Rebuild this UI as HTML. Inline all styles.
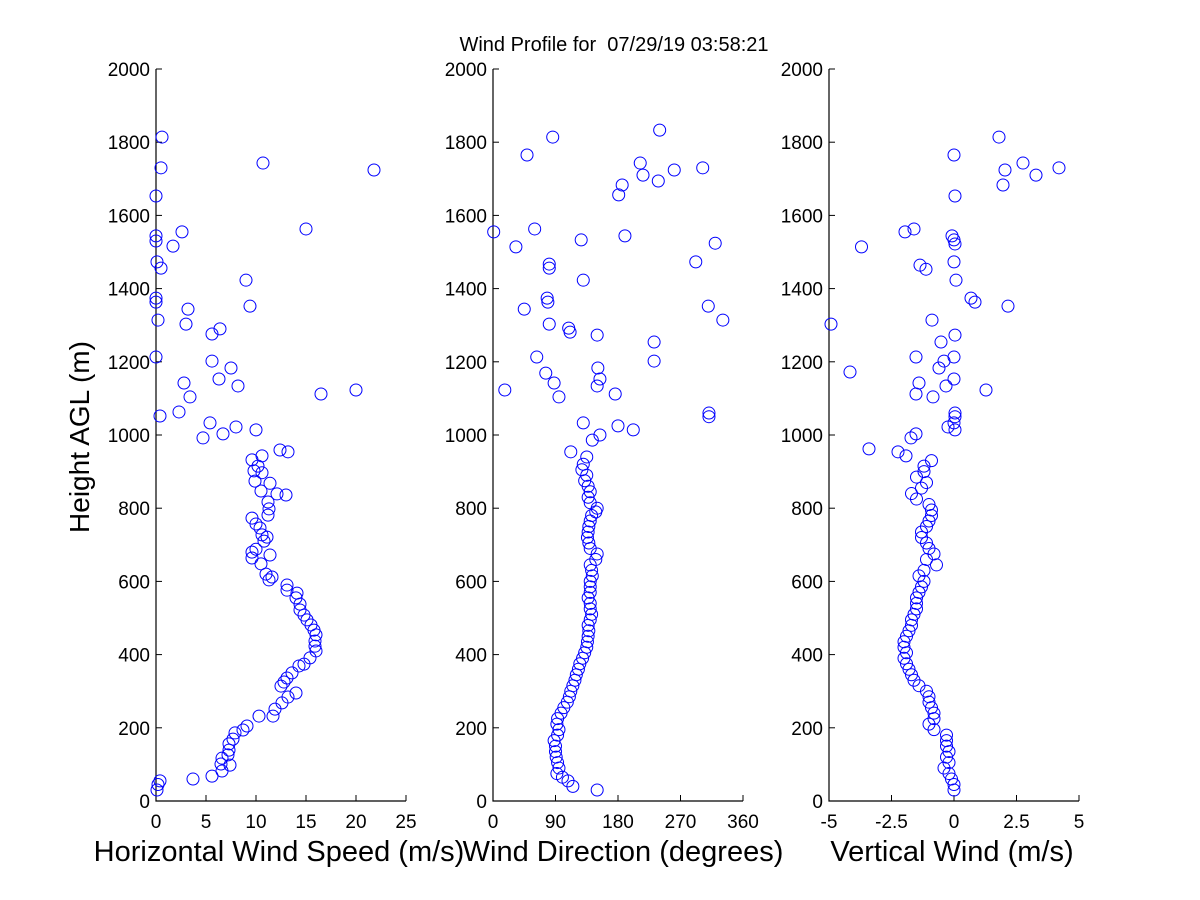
<!DOCTYPE html>
<html><head><meta charset="utf-8"><style>
body{margin:0;background:#fff;}
svg{display:block;font-family:"Liberation Sans",Arial,sans-serif;}
text{white-space:pre;}
</style></head><body>
<svg id="chart" width="1200" height="900" viewBox="0 0 1200 900">
<rect width="1200" height="900" fill="#fff"/>
<text x="614" y="51" font-size="20" text-anchor="middle" xml:space="preserve">Wind Profile for  07/29/19 03:58:21</text>
<text transform="translate(89,437) rotate(-90)" font-size="28" text-anchor="middle">Height AGL (m)</text>
</svg>
<script>
const heightTicks=[0,200,400,600,800,1000,1200,1400,1600,1800,2000];
const speedTicks=[0,5,10,15,20,25];
const dirTicks=[0,90,180,270,360];
const vertTicks=[-5,-2.5,0,2.5,5];
const vertTickLabels=["-5","-2.5","0","2.5","5"];
const speedH=[1814,1724,1743,1730,1653,1563,1555,1516,1544,1530,1473,1456,1423,1352,1344,1374,1363,1303,1314,1276,1290,1213,1202,1183,1153,1134,1142,1104,1123,1112,1052,1063,1033,1003,992,1022,1014,959,954,932,943,915,902,897,874,868,847,839,836,817,798,781,773,757,746,727,721,710,688,680,664,672,648,620,604,612,590,576,568,555,538,522,508,495,481,467,454,437,423,410,391,374,369,350,336,325,314,295,284,268,251,232,232,205,194,186,169,156,139,126,117,101,98,82,68,60,55,30,45];
const speedV=[0.6,21.8,10.7,0.5,0,15,2.6,1.7,0,0,0.1,0.5,9,9.4,3.2,0,0,3,0.2,5.6,6.4,0,5.6,7.5,6.3,8.2,2.8,3.4,20,16.5,0.4,2.3,5.4,6.7,4.7,8,10,12.4,13.2,9.6,10.6,10.2,9.8,10.6,9.9,11.4,10.5,12.1,13,11.2,11.3,11.2,9.6,10,10.4,10.6,11.1,10.8,10,9.6,9.6,11.4,10.5,11,11.3,11.6,13.1,13.1,14.1,14,14.4,14.4,14.8,15.1,15.5,15.8,16,15.9,15.9,16,15.4,14.8,14.3,13.6,13.1,12.8,12.5,14,13.2,12.6,11.9,11.7,10.3,9.1,8.7,7.9,7.7,7.3,7.3,7.2,6.6,6.5,7.4,6.6,5.6,3.7,0.4,0.1,0.2];
const dirH=[1814,1833,1765,1743,1730,1710,1724,1694,1683,1656,1563,1555,1514,1533,1544,1524,1467,1456,1473,1423,1374,1363,1344,1352,1314,1303,1292,1281,1273,1254,1213,1202,1183,1169,1153,1142,1134,1112,1123,1104,1060,1050,1033,1025,1014,1000,986,954,940,920,905,890,875,860,845,830,815,800,790,780,765,750,735,720,705,690,675,660,645,630,615,600,585,570,555,540,525,510,495,480,465,450,435,420,405,390,375,360,345,330,315,300,285,270,255,240,225,210,195,180,165,150,135,120,105,90,75,65,55,40,30];
const dirV=[86,240,49,212,302,216,261,238,186,181,60,1,33,127,190,320,81,81,292,130,78,79,45,310,331,81,109,111,150,232,63,232,151,76,154,88,150,176,17,95,311,311,130,180,202,154,143,112,135,130,128,135,132,137,140,137,140,150,148,142,140,138,137,136,138,140,150,148,140,142,143,140,140,140,137,140,140,142,140,137,138,137,136,135,132,129,125,123,120,118,115,112,110,107,102,98,93,92,95,93,88,90,90,91,93,95,92,100,108,115,150];
const vertH=[1814,1765,1743,1730,1724,1710,1683,1653,1563,1555,1514,1544,1533,1522,1473,1464,1453,1423,1374,1363,1352,1303,1314,1273,1254,1213,1213,1202,1183,1172,1153,1142,1134,1123,1112,1104,1060,1050,1033,1022,1014,1003,992,962,954,943,930,915,900,885,870,855,840,825,810,795,780,765,750,735,720,705,690,675,660,645,630,615,600,585,570,555,540,525,510,495,480,465,450,435,420,405,390,375,360,345,330,315,300,285,270,255,240,225,210,195,180,165,150,135,120,105,90,75,60,45,30];
const vertV=[1.8,0,2.76,4.2,2.04,3.28,1.96,0.04,-1.6,-1.96,-3.7,-0.08,0,0.04,0,-1.36,-1.12,0.08,0.68,0.84,2.16,-4.92,-0.88,0.04,-0.52,-1.52,0,-0.4,-0.6,-4.16,0,-1.4,-0.32,1.28,-1.52,-0.84,0.04,0.04,0,-0.24,0.04,-1.52,-1.72,-3.4,-2.24,-1.92,-0.9,-1.2,-1.2,-1.5,-1.1,-1.3,-1.7,-1.5,-1.0,-0.9,-0.9,-1.0,-1.1,-1.3,-1.3,-1.1,-1.0,-0.8,-1.1,-0.7,-1.2,-1.4,-1.2,-1.3,-1.4,-1.5,-1.5,-1.5,-1.6,-1.7,-1.7,-1.8,-1.9,-2.0,-2.0,-1.9,-2.0,-1.9,-1.8,-1.7,-1.6,-1.4,-1.1,-1.0,-1.0,-0.9,-0.8,-0.8,-1.0,-0.8,-0.3,-0.3,-0.3,-0.2,-0.3,-0.2,-0.4,-0.2,-0.1,0,0];

const NS="http://www.w3.org/2000/svg";
const svg=document.getElementById('chart');
const Y0=801,Y1=69;
function yScale(h){return Y0-(h/2000)*(Y0-Y1);}
function mk(tag,attrs,parent){const e=document.createElementNS(NS,tag);for(const k in attrs)e.setAttribute(k,attrs[k]);(parent||svg).appendChild(e);return e;}

const panels=[
 {name:'speed',x0:156,x1:406,min:0,max:25,ticks:speedTicks,labels:speedTicks.map(String),title:'Horizontal Wind Speed (m/s)',tx:279,H:speedH,V:speedV},
 {name:'direction',x0:493,x1:743,min:0,max:360,ticks:dirTicks,labels:dirTicks.map(String),title:'Wind Direction (degrees)',tx:623,H:dirH,V:dirV},
 {name:'vertical',x0:829,x1:1079,min:-5,max:5,ticks:vertTicks,labels:vertTickLabels,title:'Vertical Wind (m/s)',tx:952,H:vertH,V:vertV}
];
panels.forEach(p=>{
 const xs=v=>p.x0+(v-p.min)/(p.max-p.min)*(p.x1-p.x0);
 const g=mk('g',{});
 
 
 const ax=mk('path',{d:`M${p.x0} ${Y1}V${Y0}H${p.x1}`,stroke:'#000','stroke-width':1.2,fill:'none'},g);
 
 
 heightTicks.forEach(h=>{
  const y=yScale(h);
  mk('line',{x1:p.x0,x2:p.x0+6,y1:y,y2:y,stroke:'#000','stroke-width':1},g);
  const t=mk('text',{x:p.x0-6,y:y+7,'font-size':19,'text-anchor':'end'},g);
  t.textContent=h;
  
  
 });
 p.ticks.forEach((v,i)=>{
  const x=xs(v);
  mk('line',{x1:x,x2:x,y1:Y0,y2:Y0-6,stroke:'#000','stroke-width':1},g);
  const t=mk('text',{x:x,y:828,'font-size':19,'text-anchor':'middle'},g);
  t.textContent=p.labels[i];
  
  
 });
 const tt=mk('text',{x:p.tx,y:861,'font-size':29,'text-anchor':'middle'},g);
 tt.textContent=p.title;
 
 
 for(let i=0;i<p.H.length;i++){
  const c=mk('circle',{cx:xs(p.V[i]),cy:yScale(p.H[i]),r:6,fill:'none',stroke:'#0000ff','stroke-width':1},g);
  
  
 }
});
</script>
</body></html>
